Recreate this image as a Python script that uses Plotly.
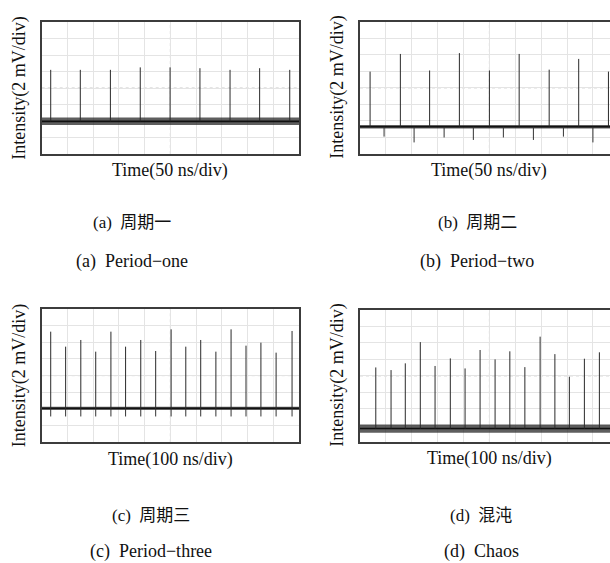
import plotly.graph_objects as go

# ---------------- data ----------------
# (a) period-one : time in ns (50 ns/div), intensity in mV (2 mV/div)
a_spike_t = [17.5, 75, 133.5, 191.5, 249.5, 307.5, 366, 423.5, 482]
a_spike_v = [10.2, 10.2, 10.2, 10.5, 10.5, 10.4, 10.2, 10.4, 10.2]
a_base = 3.96
a_noise = 0.45

# (b) period-two
b_spike_t = [19.5, 78, 134.5, 192, 250, 307.5, 365.5, 422.5, 480]
b_spike_v = [9.96, 12.1, 10.1, 12.2, 10.1, 12.1, 10.2, 11.5, 9.96]
b_dip_t = [46.5, 104.5, 162.5, 219, 277, 335, 393, 450]
b_dip_v = [2.1, 1.4, 2.0, 1.7, 2.0, 1.7, 2.1, 1.4]
b_base = 3.3
b_noise = 0.22

# (c) period-three : 100 ns/div
c_spike_t = [35, 93, 152, 210, 269, 326, 385, 443, 503, 560, 618, 677, 736, 794, 852, 911, 973]
c_spike_v = [13.28, 11.48, 12.28, 10.88, 13.28, 11.48, 12.28, 10.96, 13.56, 11.48,
             12.28, 10.88, 13.56, 11.6, 11.96, 10.76, 13.36]
c_base = 4.08
c_under = 3.1
c_noise = 0.2

# (d) chaos : 100 ns/div
d_spike_t = [61, 120, 175, 233, 290, 349, 406, 464, 522, 579, 637, 696, 753, 809, 867, 925]
d_spike_v = [9.02, 8.7, 9.52, 12.1, 9.2, 10.12, 8.9, 11.14, 10.0, 10.98, 9.06, 12.76,
             10.64, 7.9, 10.08, 10.86]
d_base = 1.6
d_noise = 0.5

x_titles = ["Time(50 ns/div)", "Time(50 ns/div)", "Time(100 ns/div)", "Time(100 ns/div)"]
y_title = "Intensity(2 mV/div)"
captions_cn = ["(a)\u00a0\u00a0周期一", "(b)\u00a0\u00a0周期二", "(c)\u00a0\u00a0周期三", "(d)\u00a0\u00a0混沌"]
captions_en = ["(a)\u00a0\u00a0Period−one", "(b)\u00a0\u00a0Period−two",
               "(c)\u00a0\u00a0Period−three", "(d)\u00a0\u00a0Chaos"]

# ---------------- layout geometry (pixels) ----------------
W, H = 610, 563
FONT = "Liberation Serif, Times New Roman, Noto Sans CJK SC, serif"

def px(x):
    return x / W

def py(y):
    return 1 - y / H

panels = [
    dict(x0=41.7, x1=299, y0=22, y1=154, xr=[0, 500], div=50, right=True),
    dict(x0=360, x1=610, y0=21.7, y1=154, xr=[0, 483], div=50, right=False),
    dict(x0=41.7, x1=299, y0=309, y1=442.3, xr=[0, 1000], div=100, right=True),
    dict(x0=360, x1=610, y0=310, y1=441.7, xr=[0, 966], div=100, right=False),
]

fig = go.Figure()

def spikes(ts, vs, base):
    xs, ys = [], []
    for t, v in zip(ts, vs):
        xs += [t, t, None]
        ys += [base, v, None]
    return xs, ys

def add_panel(i, spike_t, spike_v, base, noise, dip_t=None, dip_v=None, under=None):
    xa = "x" if i == 0 else f"x{i+1}"
    ya = "y" if i == 0 else f"y{i+1}"
    xr = panels[i]["xr"]
    fig.add_trace(go.Scatter(
        x=[xr[0], xr[1], xr[1], xr[0], xr[0]],
        y=[base - noise, base - noise, base + noise, base + noise, base - noise],
        fill="toself", fillcolor="rgba(40,40,40,0.75)", line=dict(width=0),
        mode="lines", hoverinfo="skip", showlegend=False, xaxis=xa, yaxis=ya))
    fig.add_trace(go.Scatter(
        x=[xr[0], xr[1]], y=[base, base], mode="lines",
        line=dict(color="#111", width=1.6), showlegend=False, xaxis=xa, yaxis=ya))
    sx, sy = spikes(spike_t, spike_v, base)
    fig.add_trace(go.Scatter(x=sx, y=sy, mode="lines", line=dict(color="#2a2a2a", width=1),
                             showlegend=False, xaxis=xa, yaxis=ya))
    if dip_t is not None:
        dx, dy = spikes(dip_t, dip_v, base)
        fig.add_trace(go.Scatter(x=dx, y=dy, mode="lines", line=dict(color="#333", width=1),
                                 showlegend=False, xaxis=xa, yaxis=ya))
    if under is not None:
        ux, uy = spikes(spike_t, [under] * len(spike_t), base)
        fig.add_trace(go.Scatter(x=ux, y=uy, mode="lines", line=dict(color="#333", width=1),
                                 showlegend=False, xaxis=xa, yaxis=ya))

add_panel(0, a_spike_t, a_spike_v, a_base, a_noise)
add_panel(1, b_spike_t, b_spike_v, b_base, b_noise, b_dip_t, b_dip_v)
add_panel(2, c_spike_t, c_spike_v, c_base, c_noise, under=c_under)
add_panel(3, d_spike_t, d_spike_v, d_base, d_noise)

layout = dict(width=W, height=H, margin=dict(l=0, r=0, t=0, b=0),
              paper_bgcolor="white", plot_bgcolor="white", showlegend=False)
shapes = []
annotations = []
for i, p in enumerate(panels):
    k = "" if i == 0 else str(i + 1)
    xdiv = p["div"]
    layout["xaxis" + k] = dict(domain=[px(p["x0"]), px(p["x1"])], range=p["xr"],
                               anchor="y" + k, dtick=xdiv, tick0=0,
                               showgrid=True, gridcolor="#e4e4e4", gridwidth=1,
                               showticklabels=False, ticks="", zeroline=False,
                               showline=True, linecolor="#3c3c3c", linewidth=2,
                               mirror=True, fixedrange=True)
    layout["yaxis" + k] = dict(domain=[py(p["y1"]), py(p["y0"])], range=[0, 16],
                               anchor="x" + k, dtick=2, tick0=0,
                               showgrid=True, gridcolor="#e4e4e4", gridwidth=1,
                               showticklabels=False, ticks="", zeroline=False,
                               showline=True, linecolor="#3c3c3c", linewidth=2,
                               mirror=p["right"], fixedrange=True)
    xref = "x" + k
    yref = "y" + k
    shapes.append(dict(type="line", xref=xref, yref=yref, x0=5 * xdiv, x1=5 * xdiv,
                       y0=0, y1=16, line=dict(color="#c9c9c9", width=1, dash="dot"),
                       layer="below"))
    shapes.append(dict(type="line", xref=xref, yref=yref, x0=p["xr"][0], x1=p["xr"][1],
                       y0=8, y1=8, line=dict(color="#c9c9c9", width=1, dash="dot"),
                       layer="below"))
    full_right = p["x1"] if p["right"] else 618.7
    annotations.append(dict(text=x_titles[i], xref="paper", yref="paper",
                            x=px((p["x0"] + full_right) / 2),
                            y=py(p["y1"] + 17), showarrow=False,
                            font=dict(family=FONT, size=18, color="#111"),
                            xanchor="center", yanchor="middle"))
    annotations.append(dict(text=y_title, xref="paper", yref="paper",
                            x=px(p["x0"] - 22), y=py((p["y0"] + p["y1"]) / 2),
                            showarrow=False, textangle=-90,
                            font=dict(family=FONT, size=18, color="#111"),
                            xanchor="center", yanchor="middle"))

cap_pos = [(132, 222, 261), (477, 222, 261), (151, 515, 551), (481, 515, 551)]
for i, (cx, cy1, cy2) in enumerate(cap_pos):
    annotations.append(dict(text=captions_cn[i], xref="paper", yref="paper",
                            x=px(cx), y=py(cy1), showarrow=False,
                            font=dict(family=FONT, size=17, color="#111"),
                            xanchor="center", yanchor="middle"))
    annotations.append(dict(text=captions_en[i], xref="paper", yref="paper",
                            x=px(cx), y=py(cy2), showarrow=False,
                            font=dict(family=FONT, size=18, color="#111"),
                            xanchor="center", yanchor="middle"))

layout["shapes"] = shapes
layout["annotations"] = annotations
fig.update_layout(**layout)
fig.write_html("out.html", config={"displayModeBar": False},
               post_script="document.body.style.margin='0';document.body.style.overflow='hidden';")
